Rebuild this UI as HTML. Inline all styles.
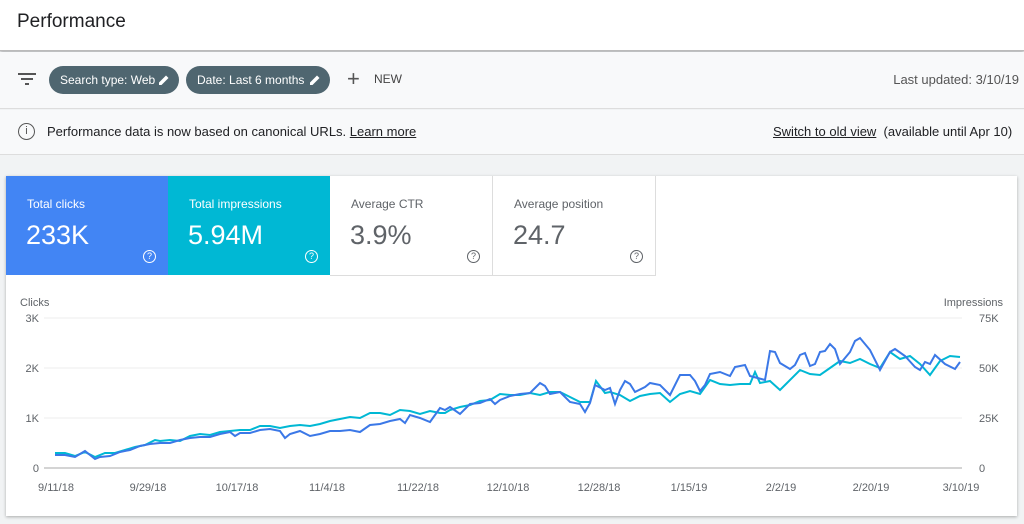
<!DOCTYPE html>
<html><head><style>
body{margin:0;width:1024px;height:524px;background:#f1f3f4;font-family:"Liberation Sans",sans-serif;overflow:hidden;position:relative}
.top{position:absolute;left:0;top:0;width:1024px;height:50px;background:#fff;border-bottom:1px solid #bbb;box-shadow:0 2px 3px rgba(0,0,0,.25)}
.top h1{margin:0;position:absolute;left:17px;top:11px;font-size:19px;font-weight:normal;color:#202124}
.bar{position:absolute;left:0;top:52px;width:1024px;height:56px;background:#f8f9fa;border-bottom:1px solid #ddd}
.chip{position:absolute;top:14px;height:28px;border-radius:14px;background:#4f6670;color:#fff;font-size:12px;line-height:28px;padding-left:11px;box-sizing:border-box;white-space:nowrap}
.chip svg{position:absolute;right:9px;top:8px}
.info{position:absolute;left:0;top:110px;width:1024px;height:44px;background:#f8f9fa;border-bottom:1px solid #ddd;font-size:13px;color:#202124}
.card{position:absolute;left:6px;top:176px;width:1011px;height:340px;background:#fff;box-shadow:0 1px 3px rgba(0,0,0,.3)}
.tile{position:absolute;top:0;width:162px;height:99px;font-size:12px}
.tile .l{position:absolute;left:21px;top:21px}
.tile .v{position:absolute;left:20px;top:44px;font-size:27px}
.tile .q{position:absolute;right:12px;bottom:12px;width:11px;height:11px;border:1px solid;border-radius:50%;font-size:9px;text-align:center;line-height:11px}
</style></head><body>
<div class="top"><h1>Performance</h1></div>
<div class="bar">
<svg style="position:absolute;left:18px;top:20px" width="18" height="14"><rect x="0" y="1" width="18" height="2" fill="#555"/><rect x="3" y="6" width="12" height="2" fill="#555"/><rect x="7" y="11" width="4" height="2" fill="#555"/></svg>
<div class="chip" style="left:49px;width:130px">Search type: Web<svg width="12" height="12"><path d="M1 11 L1 8.5 L8 1.5 L10.5 4 L3.5 11Z" fill="#fff"/></svg></div>
<div class="chip" style="left:186px;width:144px">Date: Last 6 months<svg width="12" height="12"><path d="M1 11 L1 8.5 L8 1.5 L10.5 4 L3.5 11Z" fill="#fff"/></svg></div>
<div style="position:absolute;left:347px;top:14px;font-size:22px;color:#555;line-height:26px">+</div>
<div style="position:absolute;left:374px;top:20px;font-size:12px;color:#444">NEW</div>
<div style="position:absolute;right:5px;top:20px;font-size:13px;color:#555">Last updated: 3/10/19</div>
</div>
<div class="info">
<div style="position:absolute;left:18px;top:13px;width:15px;height:15px;border:1.5px solid #555;border-radius:50%;font-size:11px;text-align:center;line-height:15px;color:#555">i</div>
<div style="position:absolute;left:47px;top:14px">Performance data is now based on canonical URLs. <u>Learn more</u></div>
<div style="position:absolute;left:773px;top:14px"><u>Switch to old view</u>&nbsp; (available until Apr 10)</div>
</div>
<div class="card">
<div class="tile" style="left:0;background:#4285f4;color:#fff"><div class="l">Total clicks</div><div class="v">233K</div><div class="q">?</div></div>
<div class="tile" style="left:162px;background:#00b8d4;color:#fff"><div class="l">Total impressions</div><div class="v">5.94M</div><div class="q">?</div></div>
<div class="tile" style="left:324px;color:#5f6368;border-right:1px solid #ddd;border-bottom:1px solid #ddd"><div class="l">Average CTR</div><div class="v">3.9%</div><div class="q">?</div></div>
<div class="tile" style="left:487px;color:#5f6368;border-right:1px solid #ddd;border-bottom:1px solid #ddd"><div class="l">Average position</div><div class="v">24.7</div><div class="q">?</div></div>
</div>
<svg style="position:absolute;left:0;top:0" width="1024" height="524" font-family="Liberation Sans" font-size="11" fill="#5f6368">
<text x="20" y="306">Clicks</text><text x="1003" y="306" text-anchor="end">Impressions</text>
<g stroke="#eee"><line x1="44" y1="318" x2="962" y2="318"/><line x1="44" y1="368" x2="962" y2="368"/><line x1="44" y1="418" x2="962" y2="418"/></g>
<line x1="44" y1="468" x2="962" y2="468" stroke="#aaa"/>
<g text-anchor="end"><text x="39" y="322">3K</text><text x="39" y="372">2K</text><text x="39" y="422">1K</text><text x="39" y="472">0</text></g>
<g><text x="979" y="322">75K</text><text x="979" y="372">50K</text><text x="979" y="422">25K</text><text x="979" y="472">0</text></g>
<g text-anchor="middle"><text x="56" y="491">9/11/18</text><text x="148" y="491">9/29/18</text><text x="237" y="491">10/17/18</text><text x="327" y="491">11/4/18</text><text x="418" y="491">11/22/18</text><text x="508" y="491">12/10/18</text><text x="599" y="491">12/28/18</text><text x="689" y="491">1/15/19</text><text x="781" y="491">2/2/19</text><text x="871" y="491">2/20/19</text><text x="961" y="491">3/10/19</text></g>
<polyline fill="none" stroke="#00b8d4" stroke-width="2" points="55,453 65,453 75,456 85,452 95,457 105,453 115,453 125,450 135,447 145,445 155,440 160,441 170,440 180,441 190,436 200,434 210,435 220,432 230,431 240,430 250,430 260,426 270,426 280,428 290,426 300,425 310,426 320,424 330,421 340,419 350,417 360,418 370,413 380,413 390,415 400,410 410,411 420,414 430,411 440,413 445,413 450,410 460,407 470,405 480,401 490,400 500,394 510,395 520,395 530,393 540,395 550,392 560,392 570,397 580,402 590,402 596,381 605,393 610,392 620,395 630,401 640,396 650,394 660,393 670,402 680,394 690,391 700,394 710,380 720,384 730,385 740,384 750,384 755,372 760,383 770,381 780,390 785,385 800,370 810,374 820,375 830,368 840,361 850,363 860,359 870,364 880,368 890,352 900,359 910,356 920,364 930,375 940,361 950,356 960,357"/>
<polyline fill="none" stroke="#3b78e7" stroke-width="2" points="55,455 65,455 75,457 85,451 95,459 100,457 110,456 120,452 130,450 140,446 150,444 160,443 170,443 180,440 190,438 200,437 210,437 220,434 230,432 235,436 240,433 250,433 260,430 270,429 280,431 285,438 290,434 300,431 310,436 320,434 330,431 340,431 350,430 360,432 370,425 380,424 390,421 400,419 405,423 410,415 420,418 430,422 440,408 445,410 450,407 460,414 470,404 480,403 490,399 495,404 500,400 510,396 520,394 530,393 540,383 545,386 550,394 560,392 570,402 580,404 585,412 590,403 595,385 605,390 610,388 615,404 620,390 625,381 630,384 635,392 645,387 650,383 660,385 670,395 680,375 690,375 695,381 700,391 705,385 710,374 720,372 730,376 735,367 745,365 750,376 765,380 770,351 775,352 780,363 790,369 795,365 800,355 805,353 810,366 815,364 820,352 825,351 830,344 835,349 840,364 850,352 855,341 860,338 870,350 880,370 890,352 895,349 905,356 915,367 920,370 925,362 930,364 935,355 945,364 955,369 960,362"/>
</svg>
</body></html>
